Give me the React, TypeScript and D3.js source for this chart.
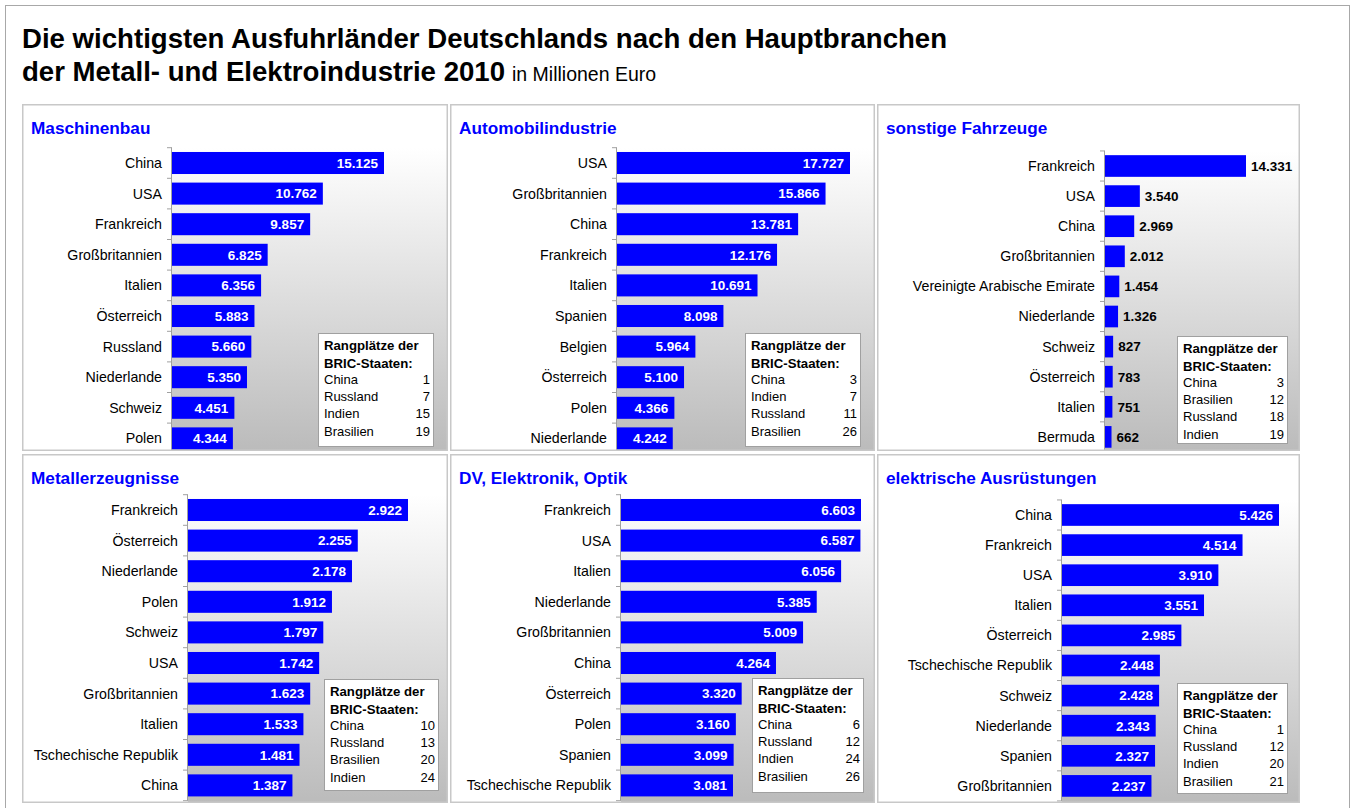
import React from "react";
import * as d3 from "d3";

const titleLine1 = "Die wichtigsten Ausfuhrländer Deutschlands nach den Hauptbranchen";
const titleLine2 = "der Metall- und Elektroindustrie 2010";
const titleUnit = "in Millionen Euro";
const legendTitle1 = "Rangplätze der";
const legendTitle2 = "BRIC-Staaten:";

const maschCats = ["China", "USA", "Frankreich", "Großbritannien", "Italien", "Österreich", "Russland", "Niederlande", "Schweiz", "Polen"];
const maschVals = [15125, 10762, 9857, 6825, 6356, 5883, 5660, 5350, 4451, 4344];
const maschLegNames = ["China", "Russland", "Indien", "Brasilien"];
const maschLegRanks = [1, 7, 15, 19];

const autoCats = ["USA", "Großbritannien", "China", "Frankreich", "Italien", "Spanien", "Belgien", "Österreich", "Polen", "Niederlande"];
const autoVals = [17727, 15866, 13781, 12176, 10691, 8098, 5964, 5100, 4366, 4242];
const autoLegNames = ["China", "Indien", "Russland", "Brasilien"];
const autoLegRanks = [3, 7, 11, 26];

const fahrCats = ["Frankreich", "USA", "China", "Großbritannien", "Vereinigte Arabische Emirate", "Niederlande", "Schweiz", "Österreich", "Italien", "Bermuda"];
const fahrVals = [14331, 3540, 2969, 2012, 1454, 1326, 827, 783, 751, 662];
const fahrLegNames = ["China", "Brasilien", "Russland", "Indien"];
const fahrLegRanks = [3, 12, 18, 19];

const metallCats = ["Frankreich", "Österreich", "Niederlande", "Polen", "Schweiz", "USA", "Großbritannien", "Italien", "Tschechische Republik", "China"];
const metallVals = [2922, 2255, 2178, 1912, 1797, 1742, 1623, 1533, 1481, 1387];
const metallLegNames = ["China", "Russland", "Brasilien", "Indien"];
const metallLegRanks = [10, 13, 20, 24];

const dvCats = ["Frankreich", "USA", "Italien", "Niederlande", "Großbritannien", "China", "Österreich", "Polen", "Spanien", "Tschechische Republik"];
const dvVals = [6603, 6587, 6056, 5385, 5009, 4264, 3320, 3160, 3099, 3081];
const dvLegNames = ["China", "Russland", "Indien", "Brasilien"];
const dvLegRanks = [6, 12, 24, 26];

const elekCats = ["China", "Frankreich", "USA", "Italien", "Österreich", "Tschechische Republik", "Schweiz", "Niederlande", "Spanien", "Großbritannien"];
const elekVals = [5426, 4514, 3910, 3551, 2985, 2448, 2428, 2343, 2327, 2237];
const elekLegNames = ["China", "Russland", "Indien", "Brasilien"];
const elekLegRanks = [1, 12, 20, 21];

const de = d3.formatLocale({ decimal: ",", thousands: ".", grouping: [3], currency: ["", " €"] });
const fmt = de.format(",d");

const FONT = "Arial, 'Liberation Sans', Helvetica, sans-serif";

type PanelDef = {
  title: string;
  cats: string[];
  vals: number[];
  legNames: string[];
  legRanks: number[];
  x: number; y: number; w: number; h: number;
  axis: number; maxEnd: number; first: number; step: number;
  leg: [number, number, number, number];
  outside?: boolean;
};

const panels: PanelDef[] = [
  { title: "Maschinenbau", cats: maschCats, vals: maschVals, legNames: maschLegNames, legRanks: maschLegRanks,
    x: 22, y: 104, w: 426, h: 347, axis: 150, maxEnd: 362, first: 59, step: 30.6, leg: [296, 229, 115, 113] },
  { title: "Automobilindustrie", cats: autoCats, vals: autoVals, legNames: autoLegNames, legRanks: autoLegRanks,
    x: 450, y: 104, w: 425, h: 347, axis: 167, maxEnd: 400, first: 59, step: 30.6, leg: [295, 229, 115, 113] },
  { title: "sonstige Fahrzeuge", cats: fahrCats, vals: fahrVals, legNames: fahrLegNames, legRanks: fahrLegRanks,
    x: 877, y: 104, w: 423, h: 347, axis: 228, maxEnd: 369, first: 62, step: 30.1, leg: [300, 232, 110, 107], outside: true },
  { title: "Metallerzeugnisse", cats: metallCats, vals: metallVals, legNames: metallLegNames, legRanks: metallLegRanks,
    x: 22, y: 454, w: 426, h: 349, axis: 166, maxEnd: 386, first: 56, step: 30.6, leg: [302, 225, 114, 111] },
  { title: "DV, Elektronik, Optik", cats: dvCats, vals: dvVals, legNames: dvLegNames, legRanks: dvLegRanks,
    x: 450, y: 454, w: 425, h: 349, axis: 171, maxEnd: 411, first: 56, step: 30.6, leg: [302, 224, 111, 114] },
  { title: "elektrische Ausrüstungen", cats: elekCats, vals: elekVals, legNames: elekLegNames, legRanks: elekLegRanks,
    x: 877, y: 454, w: 423, h: 349, axis: 185, maxEnd: 402, first: 61, step: 30.1, leg: [300, 229, 110, 110] },
];

function Panel({ p, idx }: { p: PanelDef; idx: number }) {
  const y0 = p.first - p.step / 2;
  const y1 = y0 + p.step * p.cats.length;
  const yScale = d3.scaleBand<string>().domain(p.cats).range([y0, y1]).paddingInner(0.28).paddingOuter(0.14);
  const xScale = d3.scaleLinear().domain([0, d3.max(p.vals) as number]).range([p.axis, p.maxEnd]);
  const gid = `grad${idx}`;
  const clip = `clip${idx}`;
  const [lx, ly, lw, lh] = p.leg;
  return (
    <g transform={`translate(${p.x},${p.y})`}>
      <defs>
        <linearGradient id={gid} x1="0" y1="0" x2="0" y2="1">
          <stop offset="0" stopColor="#ffffff" />
          <stop offset="1" stopColor="#bbbbbb" />
        </linearGradient>
        <clipPath id={clip}>
          <rect x={0} y={0} width={p.w} height={p.h} />
        </clipPath>
      </defs>
      <rect x={0} y={0} width={p.w} height={p.h} fill="#ffffff" />
      <g clipPath={`url(#${clip})`}>
        <rect x={p.axis} y={y0} width={p.w - p.axis} height={p.h - y0} fill={`url(#${gid})`} />
        {p.cats.map((c, i) => (
          <rect key={c + i} x={xScale(0)} y={yScale(c)} width={xScale(p.vals[i]) - xScale(0)}
            height={yScale.bandwidth()} fill="#0000ff" />
        ))}
        <line x1={p.axis - 0.5} x2={p.axis - 0.5} y1={y0} y2={y1} stroke="#a0a0a0" strokeWidth={1} />
        {d3.range(p.cats.length + 1).map((i) => (
          <line key={"t" + i} x1={p.axis - 5} x2={p.axis} y1={y0 + i * p.step} y2={y0 + i * p.step} stroke="#a0a0a0" strokeWidth={1} />
        ))}
      </g>
      {p.cats.map((c, i) => (
        <text key={"l" + i} x={p.axis - 10} y={(yScale(c) as number) + yScale.bandwidth() / 2} dy="0.35em"
          textAnchor="end" fontSize={14.2} fill="#000" fontFamily={FONT}>{c}</text>
      ))}
      {p.cats.map((c, i) => (
        <text key={"v" + i}
          x={p.outside ? xScale(p.vals[i]) + 5 : xScale(p.vals[i]) - 6}
          y={(yScale(c) as number) + yScale.bandwidth() / 2} dy="0.36em"
          textAnchor={p.outside ? "start" : "end"} fontSize={13.5} fontWeight="bold"
          fill={p.outside ? "#000" : "#fff"} fontFamily={FONT}>{fmt(p.vals[i])}</text>
      ))}
      <text x={9} y={30} fill="#0000ff" fontSize={17.2} fontWeight="bold" fontFamily={FONT}>{p.title}</text>
      <rect x={0.75} y={0.75} width={p.w - 1.5} height={p.h - 1.5} fill="none" stroke="#c8c8c8" strokeWidth={1.5} />
      <g transform={`translate(${lx},${ly})`}>
        <rect x={0.5} y={0.5} width={lw} height={lh} fill="#ffffff" stroke="#a0a0a0" strokeWidth={1} />
        <text x={6} y={17} fontSize={13.2} fontWeight="bold" fontFamily={FONT}>{legendTitle1}</text>
        <text x={6} y={34.5} fontSize={13.2} fontWeight="bold" fontFamily={FONT}>{legendTitle2}</text>
        {p.legNames.map((n, i) => (
          <g key={n}>
            <text x={6} y={51 + i * 17.2} fontSize={13} fontFamily={FONT}>{n}</text>
            <text x={lw - 3} y={51 + i * 17.2} fontSize={13} fontFamily={FONT} textAnchor="end">{p.legRanks[i]}</text>
          </g>
        ))}
      </g>
    </g>
  );
}

export default function App() {
  return (
    <div style={{ position: "absolute", left: 0, top: 0 }}>
      <svg width={1354} height={808} style={{ display: "block" }}>
        <rect x={0} y={0} width={1354} height={808} fill="#ffffff" />
        <rect x={5.5} y={5.5} width={1344} height={810} fill="none" stroke="#a8a8a8" strokeWidth={1} />
        <text x={22} y={48} fontSize={27.6} fontWeight="bold" fontFamily={FONT} fill="#000">{titleLine1}</text>
        <text x={22} y={81} fontFamily={FONT} fill="#000">
          <tspan fontSize={27.6} fontWeight="bold">{titleLine2}</tspan>
          <tspan fontSize={19.5} dx={7}>{titleUnit}</tspan>
        </text>
        {panels.map((p, i) => <Panel key={i} p={p} idx={i} />)}
      </svg>
    </div>
  );
}
